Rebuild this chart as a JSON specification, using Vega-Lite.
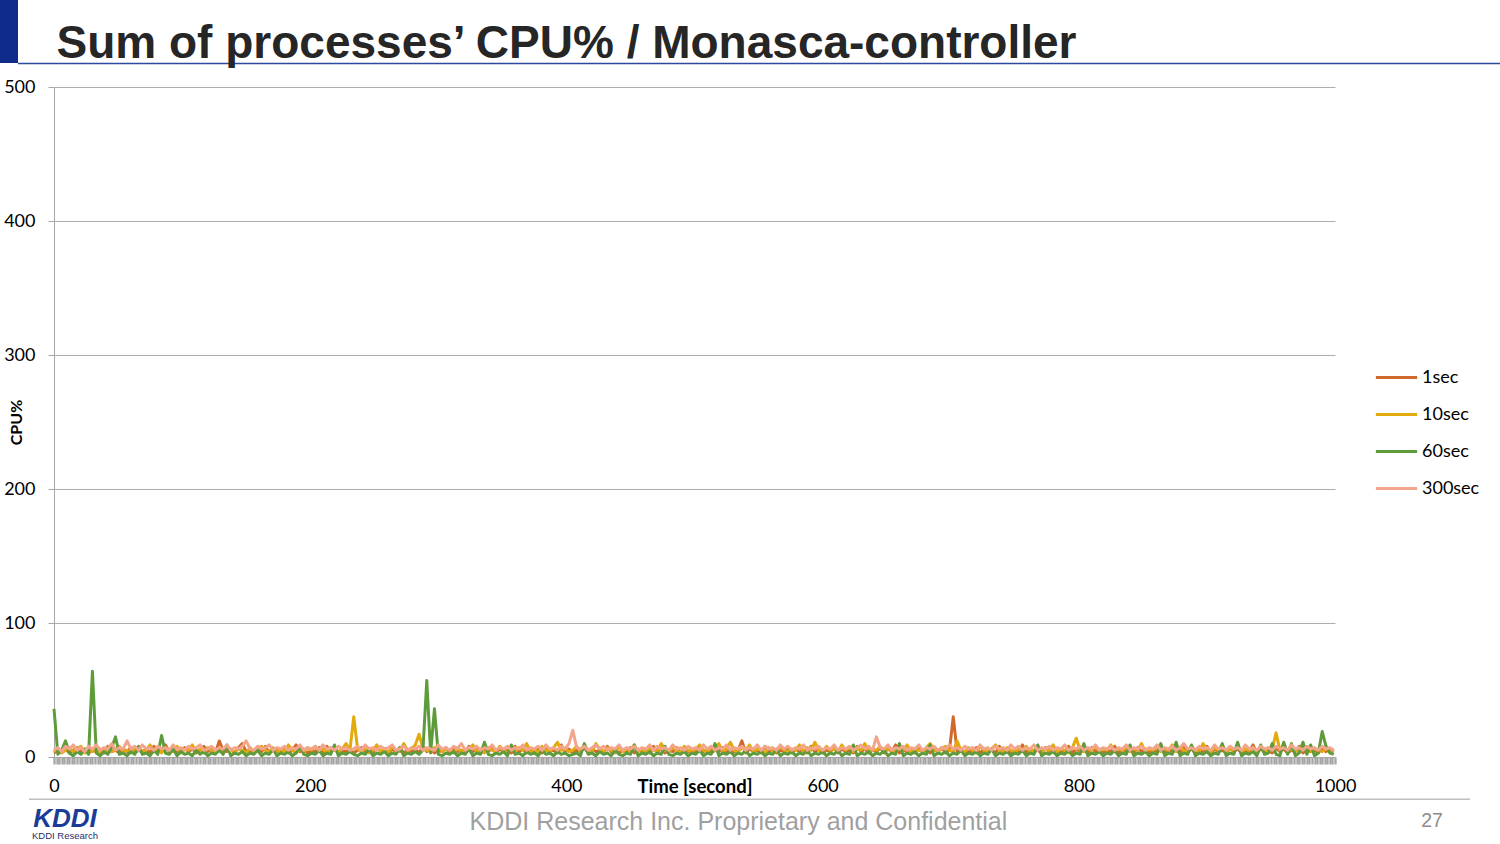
{
"$schema": "https://vega.github.io/schema/vega-lite/v6.json",
"width": 1281,
"height": 670,
"autosize": {"type": "none"},
"padding": {"left": 54, "top": 87, "right": 165, "bottom": 87},
"background": "white",
"config": {"view": {"stroke": null}, "font": "Lato"},
"datasets": {
"cpu": [
{"t":0,"1sec":3,"10sec":4,"60sec":36,"300sec":5},
{"t":3,"1sec":5,"10sec":6,"60sec":2,"300sec":7},
{"t":6,"1sec":4,"10sec":3,"60sec":5,"300sec":4},
{"t":9,"1sec":6,"10sec":5,"60sec":12,"300sec":8},
{"t":12,"1sec":3,"10sec":7,"60sec":3,"300sec":6},
{"t":15,"1sec":5,"10sec":4,"60sec":1,"300sec":9},
{"t":18,"1sec":7,"10sec":6,"60sec":4,"300sec":5},
{"t":21,"1sec":4,"10sec":8,"60sec":2,"300sec":7},
{"t":24,"1sec":6,"10sec":3,"60sec":6,"300sec":4},
{"t":27,"1sec":3,"10sec":5,"60sec":2,"300sec":8},
{"t":30,"1sec":5,"10sec":4,"60sec":64,"300sec":6},
{"t":33,"1sec":4,"10sec":7,"60sec":3,"300sec":9},
{"t":36,"1sec":6,"10sec":3,"60sec":1,"300sec":5},
{"t":39,"1sec":3,"10sec":6,"60sec":4,"300sec":7},
{"t":42,"1sec":8,"10sec":5,"60sec":2,"300sec":6},
{"t":45,"1sec":4,"10sec":4,"60sec":7,"300sec":10},
{"t":48,"1sec":5,"10sec":6,"60sec":15,"300sec":5},
{"t":51,"1sec":3,"10sec":8,"60sec":2,"300sec":7},
{"t":54,"1sec":6,"10sec":4,"60sec":3,"300sec":6},
{"t":57,"1sec":4,"10sec":5,"60sec":1,"300sec":12},
{"t":60,"1sec":7,"10sec":3,"60sec":4,"300sec":6},
{"t":63,"1sec":3,"10sec":6,"60sec":2,"300sec":8},
{"t":66,"1sec":5,"10sec":7,"60sec":8,"300sec":5},
{"t":69,"1sec":4,"10sec":4,"60sec":2,"300sec":9},
{"t":72,"1sec":6,"10sec":5,"60sec":3,"300sec":6},
{"t":75,"1sec":3,"10sec":9,"60sec":1,"300sec":7},
{"t":78,"1sec":8,"10sec":4,"60sec":5,"300sec":5},
{"t":81,"1sec":4,"10sec":6,"60sec":2,"300sec":8},
{"t":84,"1sec":5,"10sec":3,"60sec":16,"300sec":6},
{"t":87,"1sec":9,"10sec":7,"60sec":3,"300sec":7},
{"t":90,"1sec":4,"10sec":5,"60sec":2,"300sec":5},
{"t":93,"1sec":6,"10sec":4,"60sec":6,"300sec":9},
{"t":96,"1sec":3,"10sec":8,"60sec":1,"300sec":6},
{"t":99,"1sec":5,"10sec":3,"60sec":4,"300sec":7},
{"t":102,"1sec":7,"10sec":6,"60sec":2,"300sec":5},
{"t":105,"1sec":4,"10sec":5,"60sec":3,"300sec":8},
{"t":108,"1sec":6,"10sec":9,"60sec":1,"300sec":6},
{"t":111,"1sec":3,"10sec":4,"60sec":5,"300sec":7},
{"t":114,"1sec":5,"10sec":6,"60sec":2,"300sec":9},
{"t":117,"1sec":8,"10sec":3,"60sec":4,"300sec":5},
{"t":120,"1sec":4,"10sec":7,"60sec":1,"300sec":6},
{"t":123,"1sec":6,"10sec":5,"60sec":3,"300sec":8},
{"t":126,"1sec":3,"10sec":4,"60sec":2,"300sec":5},
{"t":129,"1sec":12,"10sec":6,"60sec":5,"300sec":7},
{"t":132,"1sec":5,"10sec":3,"60sec":2,"300sec":6},
{"t":135,"1sec":4,"10sec":8,"60sec":9,"300sec":9},
{"t":138,"1sec":6,"10sec":5,"60sec":1,"300sec":5},
{"t":141,"1sec":3,"10sec":4,"60sec":3,"300sec":7},
{"t":144,"1sec":7,"10sec":6,"60sec":2,"300sec":6},
{"t":147,"1sec":10,"10sec":5,"60sec":4,"300sec":8},
{"t":150,"1sec":4,"10sec":3,"60sec":1,"300sec":12},
{"t":153,"1sec":5,"10sec":7,"60sec":3,"300sec":6},
{"t":156,"1sec":3,"10sec":4,"60sec":2,"300sec":5},
{"t":159,"1sec":6,"10sec":6,"60sec":5,"300sec":8},
{"t":162,"1sec":4,"10sec":8,"60sec":1,"300sec":6},
{"t":165,"1sec":8,"10sec":5,"60sec":3,"300sec":7},
{"t":168,"1sec":3,"10sec":4,"60sec":2,"300sec":9},
{"t":171,"1sec":5,"10sec":7,"60sec":6,"300sec":5},
{"t":174,"1sec":6,"10sec":3,"60sec":1,"300sec":7},
{"t":177,"1sec":4,"10sec":6,"60sec":3,"300sec":6},
{"t":180,"1sec":7,"10sec":4,"60sec":2,"300sec":8},
{"t":183,"1sec":3,"10sec":9,"60sec":4,"300sec":5},
{"t":186,"1sec":5,"10sec":5,"60sec":1,"300sec":7},
{"t":189,"1sec":9,"10sec":3,"60sec":3,"300sec":6},
{"t":192,"1sec":4,"10sec":6,"60sec":8,"300sec":9},
{"t":195,"1sec":6,"10sec":4,"60sec":2,"300sec":5},
{"t":198,"1sec":3,"10sec":7,"60sec":1,"300sec":7},
{"t":201,"1sec":5,"10sec":5,"60sec":3,"300sec":6},
{"t":204,"1sec":4,"10sec":8,"60sec":2,"300sec":8},
{"t":207,"1sec":7,"10sec":4,"60sec":5,"300sec":5},
{"t":210,"1sec":3,"10sec":6,"60sec":1,"300sec":9},
{"t":213,"1sec":8,"10sec":3,"60sec":3,"300sec":6},
{"t":216,"1sec":4,"10sec":7,"60sec":2,"300sec":7},
{"t":219,"1sec":6,"10sec":5,"60sec":9,"300sec":5},
{"t":222,"1sec":3,"10sec":4,"60sec":1,"300sec":8},
{"t":225,"1sec":5,"10sec":6,"60sec":3,"300sec":6},
{"t":228,"1sec":4,"10sec":10,"60sec":2,"300sec":7},
{"t":231,"1sec":6,"10sec":5,"60sec":4,"300sec":5},
{"t":234,"1sec":3,"10sec":30,"60sec":2,"300sec":6},
{"t":237,"1sec":5,"10sec":6,"60sec":1,"300sec":8},
{"t":240,"1sec":7,"10sec":4,"60sec":3,"300sec":5},
{"t":243,"1sec":4,"10sec":7,"60sec":2,"300sec":9},
{"t":246,"1sec":6,"10sec":3,"60sec":6,"300sec":6},
{"t":249,"1sec":3,"10sec":5,"60sec":1,"300sec":7},
{"t":252,"1sec":8,"10sec":9,"60sec":3,"300sec":5},
{"t":255,"1sec":4,"10sec":4,"60sec":2,"300sec":8},
{"t":258,"1sec":5,"10sec":6,"60sec":4,"300sec":6},
{"t":261,"1sec":3,"10sec":3,"60sec":1,"300sec":7},
{"t":264,"1sec":6,"10sec":8,"60sec":3,"300sec":9},
{"t":267,"1sec":4,"10sec":5,"60sec":2,"300sec":5},
{"t":270,"1sec":7,"10sec":4,"60sec":7,"300sec":6},
{"t":273,"1sec":3,"10sec":10,"60sec":1,"300sec":8},
{"t":276,"1sec":5,"10sec":5,"60sec":3,"300sec":5},
{"t":279,"1sec":4,"10sec":6,"60sec":2,"300sec":7},
{"t":282,"1sec":6,"10sec":9,"60sec":4,"300sec":6},
{"t":285,"1sec":3,"10sec":17,"60sec":2,"300sec":8},
{"t":288,"1sec":8,"10sec":6,"60sec":5,"300sec":5},
{"t":291,"1sec":4,"10sec":5,"60sec":57,"300sec":7},
{"t":294,"1sec":6,"10sec":4,"60sec":3,"300sec":6},
{"t":297,"1sec":3,"10sec":7,"60sec":36,"300sec":5},
{"t":300,"1sec":5,"10sec":8,"60sec":2,"300sec":9},
{"t":303,"1sec":4,"10sec":4,"60sec":1,"300sec":6},
{"t":306,"1sec":7,"10sec":6,"60sec":3,"300sec":7},
{"t":309,"1sec":3,"10sec":5,"60sec":2,"300sec":5},
{"t":312,"1sec":6,"10sec":3,"60sec":4,"300sec":8},
{"t":315,"1sec":4,"10sec":7,"60sec":1,"300sec":6},
{"t":318,"1sec":5,"10sec":4,"60sec":3,"300sec":10},
{"t":321,"1sec":3,"10sec":6,"60sec":2,"300sec":5},
{"t":324,"1sec":8,"10sec":5,"60sec":6,"300sec":7},
{"t":327,"1sec":4,"10sec":9,"60sec":1,"300sec":6},
{"t":330,"1sec":6,"10sec":4,"60sec":3,"300sec":8},
{"t":333,"1sec":3,"10sec":6,"60sec":2,"300sec":5},
{"t":336,"1sec":5,"10sec":3,"60sec":11,"300sec":7},
{"t":339,"1sec":4,"10sec":7,"60sec":2,"300sec":6},
{"t":342,"1sec":7,"10sec":5,"60sec":1,"300sec":9},
{"t":345,"1sec":3,"10sec":4,"60sec":3,"300sec":5},
{"t":348,"1sec":6,"10sec":8,"60sec":2,"300sec":7},
{"t":351,"1sec":4,"10sec":5,"60sec":4,"300sec":6},
{"t":354,"1sec":5,"10sec":3,"60sec":1,"300sec":8},
{"t":357,"1sec":3,"10sec":6,"60sec":9,"300sec":5},
{"t":360,"1sec":8,"10sec":4,"60sec":2,"300sec":7},
{"t":363,"1sec":4,"10sec":7,"60sec":3,"300sec":6},
{"t":366,"1sec":6,"10sec":5,"60sec":1,"300sec":9},
{"t":369,"1sec":3,"10sec":10,"60sec":4,"300sec":5},
{"t":372,"1sec":5,"10sec":4,"60sec":2,"300sec":7},
{"t":375,"1sec":4,"10sec":6,"60sec":3,"300sec":6},
{"t":378,"1sec":7,"10sec":3,"60sec":1,"300sec":8},
{"t":381,"1sec":3,"10sec":8,"60sec":5,"300sec":5},
{"t":384,"1sec":6,"10sec":5,"60sec":2,"300sec":9},
{"t":387,"1sec":4,"10sec":4,"60sec":3,"300sec":6},
{"t":390,"1sec":5,"10sec":7,"60sec":1,"300sec":7},
{"t":393,"1sec":3,"10sec":11,"60sec":4,"300sec":5},
{"t":396,"1sec":9,"10sec":5,"60sec":2,"300sec":8},
{"t":399,"1sec":4,"10sec":6,"60sec":3,"300sec":6},
{"t":402,"1sec":6,"10sec":4,"60sec":1,"300sec":10},
{"t":405,"1sec":3,"10sec":5,"60sec":2,"300sec":20},
{"t":408,"1sec":5,"10sec":8,"60sec":3,"300sec":7},
{"t":411,"1sec":4,"10sec":4,"60sec":1,"300sec":6},
{"t":414,"1sec":7,"10sec":9,"60sec":10,"300sec":8},
{"t":417,"1sec":3,"10sec":5,"60sec":2,"300sec":5},
{"t":420,"1sec":6,"10sec":4,"60sec":3,"300sec":7},
{"t":423,"1sec":4,"10sec":10,"60sec":1,"300sec":9},
{"t":426,"1sec":5,"10sec":6,"60sec":4,"300sec":6},
{"t":429,"1sec":3,"10sec":4,"60sec":2,"300sec":8},
{"t":432,"1sec":8,"10sec":7,"60sec":3,"300sec":5},
{"t":435,"1sec":4,"10sec":5,"60sec":1,"300sec":7},
{"t":438,"1sec":6,"10sec":3,"60sec":5,"300sec":6},
{"t":441,"1sec":3,"10sec":8,"60sec":2,"300sec":9},
{"t":444,"1sec":5,"10sec":4,"60sec":1,"300sec":5},
{"t":447,"1sec":4,"10sec":6,"60sec":3,"300sec":7},
{"t":450,"1sec":7,"10sec":5,"60sec":2,"300sec":6},
{"t":453,"1sec":3,"10sec":9,"60sec":9,"300sec":8},
{"t":456,"1sec":6,"10sec":4,"60sec":1,"300sec":5},
{"t":459,"1sec":4,"10sec":6,"60sec":3,"300sec":7},
{"t":462,"1sec":5,"10sec":3,"60sec":2,"300sec":6},
{"t":465,"1sec":3,"10sec":7,"60sec":4,"300sec":9},
{"t":468,"1sec":8,"10sec":5,"60sec":1,"300sec":5},
{"t":471,"1sec":4,"10sec":4,"60sec":3,"300sec":8},
{"t":474,"1sec":6,"10sec":10,"60sec":2,"300sec":6},
{"t":477,"1sec":3,"10sec":5,"60sec":8,"300sec":7},
{"t":480,"1sec":5,"10sec":4,"60sec":2,"300sec":5},
{"t":483,"1sec":4,"10sec":7,"60sec":1,"300sec":9},
{"t":486,"1sec":7,"10sec":5,"60sec":3,"300sec":6},
{"t":489,"1sec":3,"10sec":3,"60sec":2,"300sec":7},
{"t":492,"1sec":6,"10sec":8,"60sec":4,"300sec":5},
{"t":495,"1sec":4,"10sec":5,"60sec":1,"300sec":8},
{"t":498,"1sec":5,"10sec":4,"60sec":3,"300sec":6},
{"t":501,"1sec":3,"10sec":6,"60sec":2,"300sec":7},
{"t":504,"1sec":8,"10sec":9,"60sec":5,"300sec":5},
{"t":507,"1sec":4,"10sec":5,"60sec":1,"300sec":9},
{"t":510,"1sec":6,"10sec":4,"60sec":3,"300sec":6},
{"t":513,"1sec":3,"10sec":7,"60sec":2,"300sec":8},
{"t":516,"1sec":5,"10sec":5,"60sec":10,"300sec":5},
{"t":519,"1sec":4,"10sec":10,"60sec":1,"300sec":7},
{"t":522,"1sec":7,"10sec":4,"60sec":3,"300sec":6},
{"t":525,"1sec":3,"10sec":6,"60sec":2,"300sec":9},
{"t":528,"1sec":6,"10sec":11,"60sec":4,"300sec":5},
{"t":531,"1sec":4,"10sec":5,"60sec":1,"300sec":7},
{"t":534,"1sec":5,"10sec":4,"60sec":3,"300sec":6},
{"t":537,"1sec":12,"10sec":7,"60sec":2,"300sec":8},
{"t":540,"1sec":3,"10sec":5,"60sec":5,"300sec":5},
{"t":543,"1sec":6,"10sec":9,"60sec":1,"300sec":7},
{"t":546,"1sec":4,"10sec":4,"60sec":3,"300sec":6},
{"t":549,"1sec":5,"10sec":6,"60sec":2,"300sec":9},
{"t":552,"1sec":3,"10sec":5,"60sec":4,"300sec":5},
{"t":555,"1sec":8,"10sec":3,"60sec":1,"300sec":8},
{"t":558,"1sec":4,"10sec":7,"60sec":3,"300sec":6},
{"t":561,"1sec":6,"10sec":5,"60sec":2,"300sec":7},
{"t":564,"1sec":3,"10sec":4,"60sec":6,"300sec":5},
{"t":567,"1sec":5,"10sec":8,"60sec":1,"300sec":9},
{"t":570,"1sec":4,"10sec":5,"60sec":3,"300sec":6},
{"t":573,"1sec":7,"10sec":4,"60sec":2,"300sec":8},
{"t":576,"1sec":3,"10sec":6,"60sec":4,"300sec":5},
{"t":579,"1sec":6,"10sec":5,"60sec":1,"300sec":7},
{"t":582,"1sec":4,"10sec":9,"60sec":3,"300sec":6},
{"t":585,"1sec":5,"10sec":4,"60sec":2,"300sec":9},
{"t":588,"1sec":3,"10sec":7,"60sec":5,"300sec":5},
{"t":591,"1sec":8,"10sec":5,"60sec":1,"300sec":7},
{"t":594,"1sec":4,"10sec":11,"60sec":3,"300sec":6},
{"t":597,"1sec":6,"10sec":5,"60sec":2,"300sec":8},
{"t":600,"1sec":3,"10sec":4,"60sec":4,"300sec":5},
{"t":603,"1sec":5,"10sec":8,"60sec":1,"300sec":7},
{"t":606,"1sec":4,"10sec":5,"60sec":3,"300sec":6},
{"t":609,"1sec":7,"10sec":6,"60sec":2,"300sec":9},
{"t":612,"1sec":3,"10sec":4,"60sec":5,"300sec":5},
{"t":615,"1sec":6,"10sec":9,"60sec":1,"300sec":7},
{"t":618,"1sec":4,"10sec":5,"60sec":3,"300sec":6},
{"t":621,"1sec":5,"10sec":7,"60sec":2,"300sec":8},
{"t":624,"1sec":3,"10sec":4,"60sec":9,"300sec":5},
{"t":627,"1sec":8,"10sec":6,"60sec":1,"300sec":7},
{"t":630,"1sec":4,"10sec":5,"60sec":3,"300sec":9},
{"t":633,"1sec":6,"10sec":10,"60sec":2,"300sec":6},
{"t":636,"1sec":3,"10sec":4,"60sec":4,"300sec":8},
{"t":639,"1sec":5,"10sec":6,"60sec":1,"300sec":5},
{"t":642,"1sec":4,"10sec":5,"60sec":3,"300sec":15},
{"t":645,"1sec":7,"10sec":8,"60sec":2,"300sec":7},
{"t":648,"1sec":3,"10sec":4,"60sec":5,"300sec":6},
{"t":651,"1sec":6,"10sec":6,"60sec":1,"300sec":9},
{"t":654,"1sec":4,"10sec":5,"60sec":3,"300sec":5},
{"t":657,"1sec":9,"10sec":4,"60sec":2,"300sec":7},
{"t":660,"1sec":3,"10sec":7,"60sec":10,"300sec":6},
{"t":663,"1sec":5,"10sec":5,"60sec":1,"300sec":8},
{"t":666,"1sec":4,"10sec":9,"60sec":3,"300sec":5},
{"t":669,"1sec":6,"10sec":4,"60sec":2,"300sec":7},
{"t":672,"1sec":3,"10sec":6,"60sec":4,"300sec":6},
{"t":675,"1sec":8,"10sec":5,"60sec":1,"300sec":9},
{"t":678,"1sec":4,"10sec":4,"60sec":3,"300sec":5},
{"t":681,"1sec":5,"10sec":7,"60sec":2,"300sec":7},
{"t":684,"1sec":3,"10sec":10,"60sec":9,"300sec":6},
{"t":687,"1sec":6,"10sec":5,"60sec":1,"300sec":8},
{"t":690,"1sec":4,"10sec":4,"60sec":3,"300sec":5},
{"t":693,"1sec":7,"10sec":6,"60sec":2,"300sec":7},
{"t":696,"1sec":3,"10sec":8,"60sec":4,"300sec":6},
{"t":699,"1sec":5,"10sec":5,"60sec":1,"300sec":9},
{"t":702,"1sec":30,"10sec":4,"60sec":3,"300sec":6},
{"t":705,"1sec":4,"10sec":12,"60sec":2,"300sec":7},
{"t":708,"1sec":6,"10sec":5,"60sec":5,"300sec":5},
{"t":711,"1sec":3,"10sec":4,"60sec":1,"300sec":8},
{"t":714,"1sec":5,"10sec":7,"60sec":3,"300sec":6},
{"t":717,"1sec":4,"10sec":5,"60sec":2,"300sec":7},
{"t":720,"1sec":7,"10sec":3,"60sec":4,"300sec":5},
{"t":723,"1sec":3,"10sec":8,"60sec":1,"300sec":9},
{"t":726,"1sec":6,"10sec":5,"60sec":3,"300sec":6},
{"t":729,"1sec":4,"10sec":4,"60sec":2,"300sec":7},
{"t":732,"1sec":5,"10sec":6,"60sec":6,"300sec":5},
{"t":735,"1sec":3,"10sec":9,"60sec":1,"300sec":8},
{"t":738,"1sec":8,"10sec":5,"60sec":3,"300sec":6},
{"t":741,"1sec":4,"10sec":4,"60sec":2,"300sec":7},
{"t":744,"1sec":6,"10sec":7,"60sec":4,"300sec":5},
{"t":747,"1sec":3,"10sec":5,"60sec":1,"300sec":9},
{"t":750,"1sec":5,"10sec":4,"60sec":3,"300sec":6},
{"t":753,"1sec":4,"10sec":6,"60sec":2,"300sec":8},
{"t":756,"1sec":9,"10sec":5,"60sec":5,"300sec":5},
{"t":759,"1sec":3,"10sec":8,"60sec":1,"300sec":7},
{"t":762,"1sec":6,"10sec":4,"60sec":3,"300sec":6},
{"t":765,"1sec":4,"10sec":5,"60sec":2,"300sec":9},
{"t":768,"1sec":5,"10sec":7,"60sec":9,"300sec":5},
{"t":771,"1sec":3,"10sec":4,"60sec":1,"300sec":7},
{"t":774,"1sec":7,"10sec":6,"60sec":3,"300sec":6},
{"t":777,"1sec":4,"10sec":5,"60sec":2,"300sec":8},
{"t":780,"1sec":6,"10sec":9,"60sec":4,"300sec":5},
{"t":783,"1sec":3,"10sec":4,"60sec":1,"300sec":7},
{"t":786,"1sec":5,"10sec":6,"60sec":3,"300sec":6},
{"t":789,"1sec":4,"10sec":5,"60sec":2,"300sec":9},
{"t":792,"1sec":8,"10sec":3,"60sec":5,"300sec":5},
{"t":795,"1sec":3,"10sec":7,"60sec":1,"300sec":7},
{"t":798,"1sec":6,"10sec":14,"60sec":3,"300sec":6},
{"t":801,"1sec":4,"10sec":5,"60sec":2,"300sec":8},
{"t":804,"1sec":5,"10sec":4,"60sec":10,"300sec":5},
{"t":807,"1sec":3,"10sec":6,"60sec":1,"300sec":7},
{"t":810,"1sec":7,"10sec":5,"60sec":3,"300sec":6},
{"t":813,"1sec":4,"10sec":8,"60sec":2,"300sec":9},
{"t":816,"1sec":6,"10sec":4,"60sec":4,"300sec":5},
{"t":819,"1sec":3,"10sec":6,"60sec":1,"300sec":7},
{"t":822,"1sec":5,"10sec":5,"60sec":3,"300sec":6},
{"t":825,"1sec":4,"10sec":9,"60sec":2,"300sec":8},
{"t":828,"1sec":8,"10sec":4,"60sec":5,"300sec":5},
{"t":831,"1sec":3,"10sec":6,"60sec":1,"300sec":7},
{"t":834,"1sec":6,"10sec":5,"60sec":3,"300sec":6},
{"t":837,"1sec":4,"10sec":7,"60sec":2,"300sec":9},
{"t":840,"1sec":5,"10sec":4,"60sec":9,"300sec":5},
{"t":843,"1sec":3,"10sec":6,"60sec":1,"300sec":7},
{"t":846,"1sec":7,"10sec":5,"60sec":3,"300sec":6},
{"t":849,"1sec":4,"10sec":10,"60sec":2,"300sec":8},
{"t":852,"1sec":6,"10sec":4,"60sec":4,"300sec":5},
{"t":855,"1sec":3,"10sec":6,"60sec":1,"300sec":7},
{"t":858,"1sec":5,"10sec":5,"60sec":3,"300sec":6},
{"t":861,"1sec":4,"10sec":8,"60sec":2,"300sec":9},
{"t":864,"1sec":9,"10sec":4,"60sec":10,"300sec":5},
{"t":867,"1sec":3,"10sec":6,"60sec":1,"300sec":7},
{"t":870,"1sec":6,"10sec":5,"60sec":3,"300sec":6},
{"t":873,"1sec":4,"10sec":9,"60sec":2,"300sec":8},
{"t":876,"1sec":5,"10sec":4,"60sec":11,"300sec":5},
{"t":879,"1sec":3,"10sec":7,"60sec":1,"300sec":7},
{"t":882,"1sec":7,"10sec":5,"60sec":3,"300sec":10},
{"t":885,"1sec":4,"10sec":4,"60sec":2,"300sec":6},
{"t":888,"1sec":6,"10sec":8,"60sec":9,"300sec":7},
{"t":891,"1sec":3,"10sec":5,"60sec":1,"300sec":5},
{"t":894,"1sec":5,"10sec":4,"60sec":3,"300sec":8},
{"t":897,"1sec":4,"10sec":10,"60sec":2,"300sec":6},
{"t":900,"1sec":8,"10sec":5,"60sec":4,"300sec":7},
{"t":903,"1sec":3,"10sec":4,"60sec":1,"300sec":5},
{"t":906,"1sec":6,"10sec":7,"60sec":3,"300sec":9},
{"t":909,"1sec":4,"10sec":5,"60sec":2,"300sec":6},
{"t":912,"1sec":5,"10sec":9,"60sec":10,"300sec":7},
{"t":915,"1sec":3,"10sec":4,"60sec":1,"300sec":5},
{"t":918,"1sec":7,"10sec":6,"60sec":3,"300sec":8},
{"t":921,"1sec":4,"10sec":5,"60sec":2,"300sec":6},
{"t":924,"1sec":6,"10sec":8,"60sec":11,"300sec":7},
{"t":927,"1sec":3,"10sec":4,"60sec":1,"300sec":5},
{"t":930,"1sec":5,"10sec":6,"60sec":3,"300sec":9},
{"t":933,"1sec":4,"10sec":5,"60sec":2,"300sec":6},
{"t":936,"1sec":9,"10sec":7,"60sec":4,"300sec":7},
{"t":939,"1sec":3,"10sec":4,"60sec":1,"300sec":5},
{"t":942,"1sec":6,"10sec":8,"60sec":9,"300sec":8},
{"t":945,"1sec":4,"10sec":5,"60sec":2,"300sec":6},
{"t":948,"1sec":5,"10sec":4,"60sec":3,"300sec":7},
{"t":951,"1sec":3,"10sec":6,"60sec":10,"300sec":5},
{"t":954,"1sec":7,"10sec":18,"60sec":2,"300sec":8},
{"t":957,"1sec":4,"10sec":5,"60sec":1,"300sec":6},
{"t":960,"1sec":6,"10sec":9,"60sec":11,"300sec":7},
{"t":963,"1sec":3,"10sec":4,"60sec":2,"300sec":5},
{"t":966,"1sec":5,"10sec":6,"60sec":10,"300sec":9},
{"t":969,"1sec":4,"10sec":5,"60sec":1,"300sec":6},
{"t":972,"1sec":8,"10sec":4,"60sec":3,"300sec":7},
{"t":975,"1sec":3,"10sec":7,"60sec":11,"300sec":5},
{"t":978,"1sec":6,"10sec":5,"60sec":2,"300sec":8},
{"t":981,"1sec":4,"10sec":4,"60sec":9,"300sec":6},
{"t":984,"1sec":5,"10sec":6,"60sec":1,"300sec":7},
{"t":987,"1sec":3,"10sec":5,"60sec":3,"300sec":5},
{"t":990,"1sec":7,"10sec":4,"60sec":19,"300sec":8},
{"t":993,"1sec":4,"10sec":6,"60sec":8,"300sec":6},
{"t":996,"1sec":6,"10sec":5,"60sec":3,"300sec":7},
{"t":999,"1sec":4,"10sec":4,"60sec":2,"300sec":5}
],
"slide": [
{"part": "title", "text": "Sum of processes’ CPU% / Monasca-controller"},
{"part": "footer", "text": "KDDI Research Inc. Proprietary and Confidential"},
{"part": "page", "text": "27"},
{"part": "logo", "text": "KDDI"},
{"part": "logosub", "text": "KDDI Research"}
]
},
"layer": [
{
"data": {"values": [{"item": "bar"}]},
"mark": {"type": "rect", "color": "#0E2B8A"},
"encoding": {"x": {"datum": -42.2}, "x2": {"datum": -28.1}, "y": {"datum": 565}, "y2": {"datum": 517.9}}
},
{
"data": {"values": [{"item": "titleline"}]},
"mark": {"type": "rule", "color": "#2C4A9E", "strokeWidth": 1.5},
"encoding": {"x": {"datum": -28.1}, "x2": {"datum": 1129}, "y": {"datum": 517.5}}
},
{
"data": {"values": [{"item": "footerline"}]},
"mark": {"type": "rule", "color": "#BFBFBF", "strokeWidth": 1.5},
"encoding": {"x": {"datum": -19.5}, "x2": {"datum": 1105.4}, "y": {"datum": -31.6}}
},
{
"data": {"name": "slide"},
"transform": [{"filter": "datum.part === 'title'"}],
"mark": {"type": "text", "font": "Liberation Sans", "fontSize": 46, "fontWeight": "bold", "align": "left", "baseline": "alphabetic", "color": "#262626"},
"encoding": {"text": {"field": "text"}, "x": {"datum": 2.0}, "y": {"datum": 521.6}}
},
{
"data": {"name": "slide"},
"transform": [{"filter": "datum.part === 'footer'"}],
"mark": {"type": "text", "font": "Liberation Sans", "fontSize": 25, "align": "center", "baseline": "middle", "color": "#A0A0A0"},
"encoding": {"text": {"field": "text"}, "x": {"datum": 534.3}, "y": {"datum": -48.5}}
},
{
"data": {"name": "slide"},
"transform": [{"filter": "datum.part === 'page'"}],
"mark": {"type": "text", "font": "Liberation Sans", "fontSize": 19.5, "align": "center", "baseline": "alphabetic", "color": "#8C8C8C"},
"encoding": {"text": {"field": "text"}, "x": {"datum": 1075.7}, "y": {"datum": -52.2}}
},
{
"data": {"name": "slide"},
"transform": [{"filter": "datum.part === 'logo'"}],
"mark": {"type": "text", "font": "Liberation Sans", "fontSize": 26, "fontWeight": "bold", "fontStyle": "italic", "align": "center", "baseline": "alphabetic", "color": "#1A3C98"},
"encoding": {"text": {"field": "text"}, "x": {"datum": 8.6}, "y": {"datum": -52.2}}
},
{
"data": {"name": "slide"},
"transform": [{"filter": "datum.part === 'logosub'"}],
"mark": {"type": "text", "font": "Liberation Sans", "fontSize": 9.5, "align": "center", "baseline": "alphabetic", "color": "#1F2F6B"},
"encoding": {"text": {"field": "text"}, "x": {"datum": 8.6}, "y": {"datum": -61.2}}
},
{
"data": {"name": "cpu"},
"transform": [{"fold": ["1sec", "10sec", "60sec", "300sec"], "as": ["interval", "cpu"]}],
"mark": {"type": "line", "strokeWidth": 3, "strokeJoin": "round"},
"encoding": {
"x": {"field": "t", "type": "quantitative", "scale": {"domain": [0, 1000], "nice": false, "zero": false},
"axis": {"title": "Time [second]", "titleFont": "Lato", "titleFontSize": 18.5, "titleFontWeight": "bold", "titleColor": "#000000", "titlePadding": -18,
"tickCount": 500, "labelExpr": "datum.value % 200 === 0 ? datum.value : ''", "labelOverlap": false, "labelFlush": false, "labelBound": false,
"labelFont": "Lato", "labelFontSize": 18, "labelColor": "#000000", "labelPadding": 13,
"tickSize": 7, "tickWidth": 2.3, "tickColor": "#A6A6A6", "domainColor": "#A6A6A6", "domainWidth": 1, "grid": false}},
"y": {"field": "cpu", "type": "quantitative", "scale": {"domain": [0, 500], "nice": false},
"axis": {"title": "CPU%", "titleFont": "Lato", "titleFontSize": 16, "titleFontWeight": "bold", "titleColor": "#000000", "titlePadding": -21,
"values": [0, 100, 200, 300, 400, 500], "labelFont": "Lato", "labelFontSize": 18, "labelColor": "#000000", "labelPadding": 13,
"tickSize": 6, "tickColor": "#A6A6A6", "domainColor": "#A6A6A6", "grid": true, "gridColor": "#ADADAD", "gridWidth": 1}},
"color": {"field": "interval", "type": "nominal", "sort": null,
"scale": {"domain": ["1sec", "10sec", "60sec", "300sec"], "range": ["#D0692B", "#E2AA0C", "#5E9C3B", "#F3A58C"]},
"legend": {"orient": "none", "legendX": 1320, "legendY": 268, "title": null, "symbolType": "stroke", "symbolSize": 1700, "symbolStrokeWidth": 3,
"labelFont": "Lato", "labelFontSize": 18, "labelColor": "#000000", "labelOffset": 3, "rowPadding": 5, "padding": 0}}
}
}
]
}
